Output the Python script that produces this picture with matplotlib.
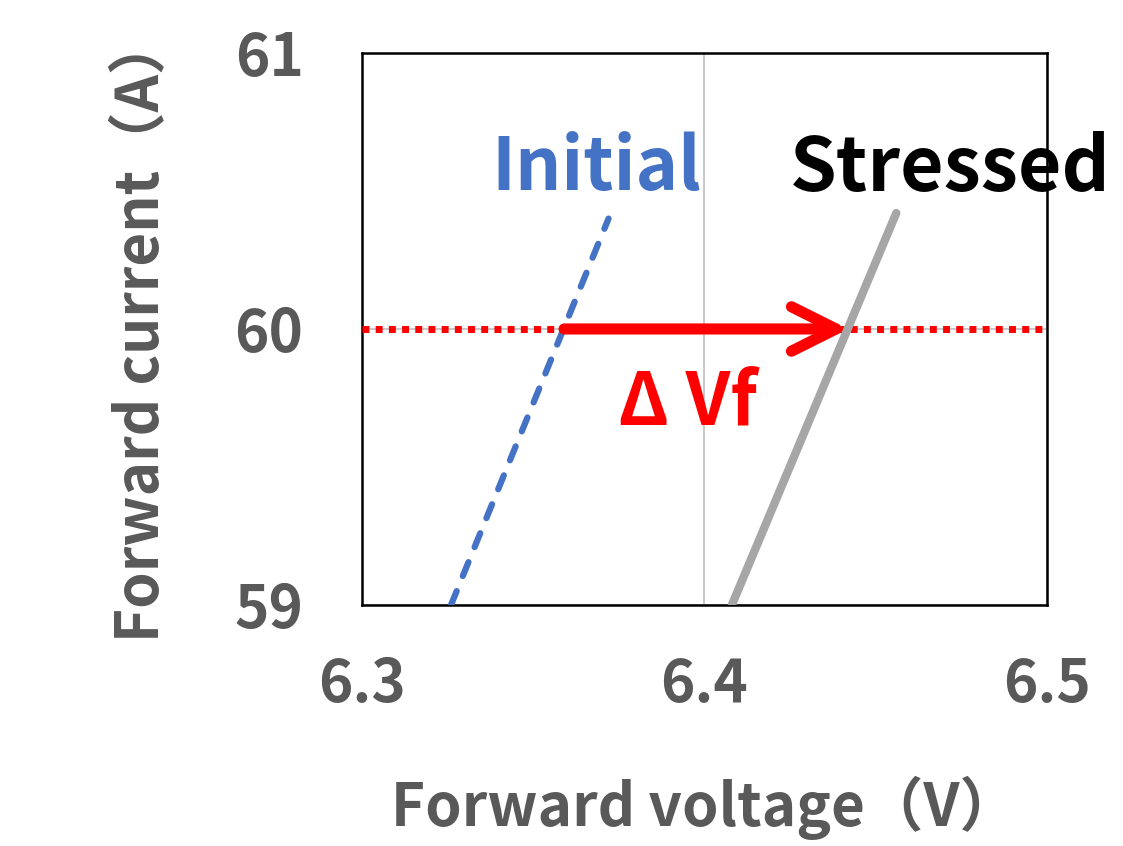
import matplotlib
matplotlib.use("Agg")
import matplotlib.pyplot as plt

plt.rcParams['font.family'] = ['Noto Sans CJK JP', 'DejaVu Sans']

# data
init_v = [6.326, 6.372]
init_i = [59.0, 60.40]
stress_v = [6.408, 6.456]
stress_i = [59.0, 60.42]
ref_current = 60.0
dvf_start = 6.359
dvf_end = 6.442

x_ticks = [6.3, 6.4, 6.5]
y_ticks = [59, 60, 61]

gray = '#595959'

fig = plt.figure(figsize=(11.23, 8.46), dpi=100)
ax = fig.add_axes([0.3223, 0.2849, 0.61, 0.6525])

ax.set_xlim(6.3, 6.5)
ax.set_ylim(59, 61)
ax.set_xticks(x_ticks)
ax.set_yticks(y_ticks)
ax.set_xticklabels([f'{v:.1f}' for v in x_ticks])
ax.set_yticklabels([str(v) for v in y_ticks])
ax.tick_params(length=0, labelsize=42, labelcolor=gray)
ax.tick_params(axis='y', pad=42)
ax.tick_params(axis='x', pad=36)
for lab in ax.get_xticklabels() + ax.get_yticklabels():
    lab.set_fontweight('bold')
ax.grid(True, color='#BFBFBF', linewidth=1.2)
ax.set_axisbelow(True)
for s in ax.spines.values():
    s.set_linewidth(1.8)
    s.set_color('black')

ax.set_xlabel('Forward voltage（V）', fontsize=42, color=gray,
              fontweight='bold', labelpad=44)
ax.set_ylabel('Forward current（A）', fontsize=42, color=gray,
              fontweight='bold', labelpad=46)

# reference line at 60 A
ax.axhline(ref_current, color='red', linewidth=5, linestyle=(0, (1, 0.9)),
           zorder=3)

ax.plot(init_v, init_i, color='#4472C4', linewidth=4.5,
        linestyle=(0, (2.4, 2.6)), dash_capstyle='round', zorder=4)
ax.plot(stress_v, stress_i, color='#A6A6A6', linewidth=6,
        solid_capstyle='round', zorder=4)

ax.annotate('', xy=(dvf_end, ref_current), xytext=(dvf_start, ref_current),
            arrowprops=dict(arrowstyle='->,head_length=1.6,head_width=0.8',
                            mutation_scale=20, color='red', lw=8,
                            shrinkA=0, shrinkB=0, capstyle='round',
                            joinstyle='round'),
            zorder=5)

ax.text(6.3685, 60.58, 'Initial', color='#4472C4',
        fontsize=52, fontweight='bold', ha='center', va='center')
ax.text(6.4717, 60.58, 'Stressed', color='black', fontsize=54,
        fontweight='bold', ha='center', va='center', clip_on=False)
ax.text(6.3952, 59.73, 'Δ Vf', color='red', fontsize=52,
        fontweight='bold', ha='center', va='center')

fig.savefig('out.png', dpi=100)
